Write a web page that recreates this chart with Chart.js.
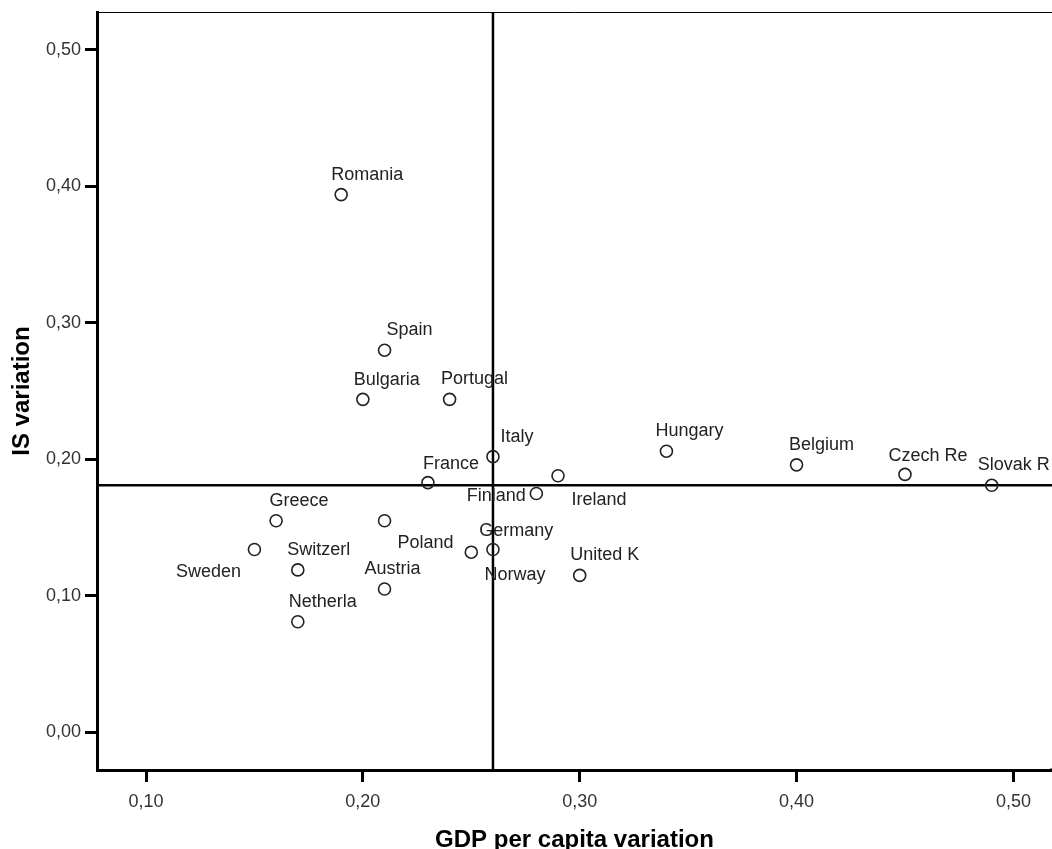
<!DOCTYPE html>
<html>
<head>
<meta charset="utf-8">
<script src="https://cdn.jsdelivr.net/npm/chart.js@4.4.1/dist/chart.umd.min.js"></script>
<style>
html,body{margin:0;padding:0;background:#fff;overflow:hidden;width:1052px;height:849px;}
canvas{display:block;}
</style>
</head>
<body>
<canvas id="c" width="1052" height="849"></canvas>
<script>
// ---- data ----
const countries = ['Romania','Spain','Bulgaria','Portugal','Italy','France','Ireland','Finland','Hungary','Belgium','Czech Re','Slovak R','Greece','Poland','Sweden','Switzerl','Germany','Norway','Austria','Netherla','United K'];
const gdpVariation = [0.19,0.21,0.20,0.24,0.26,0.23,0.29,0.28,0.34,0.40,0.45,0.49,0.16,0.21,0.15,0.17,0.25,0.26,0.21,0.17,0.30];
const isVariation = [0.394,0.280,0.244,0.244,0.202,0.183,0.188,0.175,0.206,0.196,0.189,0.181,0.155,0.155,0.134,0.119,0.132,0.134,0.105,0.081,0.115];
const xTickValues = [0.10,0.20,0.30,0.40,0.50];
const yTickValues = [0.00,0.10,0.20,0.30,0.40,0.50];
const refLineX = 0.26;   // vertical reference line (GDP)
const refLineY = 0.181;  // horizontal reference line (IS)

// ---- label placement (style only: pixel offset of label centre from point) ----
const labelOffsets = [[26,-20],[25,-20],[24,-19],[25,-20],[24,-20],[23,-19],[41,24],[-40,3],[23,-20],[25,-20],[23,-18],[22,-20],[23,-20],[41,22],[-46,23],[21,-20],[45,-21],[22,26],[8,-20],[25,-20],[25,-20]];

const FONT = '"Liberation Sans", Arial, Helvetica, sans-serif';
const fmt = v => v.toFixed(2).replace('.', ',');

const refLines = {
  id: 'refLines',
  beforeDatasetsDraw(chart) {
    const {ctx, chartArea: a, scales: {x, y}} = chart;
    const W = chart.width;
    ctx.save();
    ctx.strokeStyle = '#000';
    // thin top frame line
    ctx.lineWidth = 1;
    ctx.beginPath();
    ctx.moveTo(a.left, a.top + 0.5);
    ctx.lineTo(W, a.top + 0.5);
    ctx.stroke();
    // bottom axis line continues to the picture edge
    ctx.lineWidth = 3;
    ctx.beginPath();
    ctx.moveTo(a.right - 2, a.bottom);
    ctx.lineTo(W, a.bottom);
    ctx.stroke();
    // reference lines
    ctx.lineWidth = 2.5;
    const px = x.getPixelForValue(refLineX);
    const py = y.getPixelForValue(refLineY);
    ctx.beginPath();
    ctx.moveTo(px, a.top);
    ctx.lineTo(px, a.bottom);
    ctx.moveTo(a.left, py);
    ctx.lineTo(W, py);
    ctx.stroke();
    ctx.restore();
  }
};

const pointLabels = {
  id: 'pointLabels',
  afterDatasetsDraw(chart) {
    const {ctx} = chart;
    const meta = chart.getDatasetMeta(0);
    ctx.save();
    ctx.font = '18px ' + FONT;
    ctx.fillStyle = '#222';
    ctx.textAlign = 'center';
    ctx.textBaseline = 'middle';
    meta.data.forEach((pt, i) => {
      const o = labelOffsets[i] || [24, -20];
      ctx.fillText(countries[i], pt.x + o[0], pt.y + o[1]);
    });
    ctx.restore();
  }
};

new Chart(document.getElementById('c'), {
  type: 'scatter',
  data: {
    datasets: [{
      data: gdpVariation.map((g, i) => ({x: g, y: isVariation[i]})),
      pointStyle: 'circle',
      pointRadius: 6,
      pointHoverRadius: 6,
      borderWidth: 1.6,
      borderColor: '#222',
      backgroundColor: 'rgba(0,0,0,0)',
      clip: false
    }]
  },
  options: {
    responsive: false,
    animation: false,
    events: [],
    layout: {autoPadding: false, padding: {top: 12, left: 0, right: 0, bottom: 0}},
    plugins: {legend: {display: false}, tooltip: {enabled: false}, title: {display: false}},
    scales: {
      x: {
        type: 'linear',
        min: 0.0774,
        max: 0.5178,
        afterBuildTicks: s => { s.ticks = xTickValues.map(v => ({value: v})); },
        afterFit: s => { s.height = 79; s.paddingLeft = 0; s.paddingRight = 0; },
        border: {display: true, color: '#000', width: 3},
        grid: {display: true, drawOnChartArea: false, drawTicks: true, tickLength: 12, tickWidth: 3, tickColor: '#000'},
        ticks: {callback: v => fmt(v), font: {family: FONT, size: 18}, color: '#333', padding: 9, maxRotation: 0, autoSkip: false},
        title: {display: true, text: 'GDP per capita variation', font: {family: FONT, size: 24, weight: 'bold', lineHeight: 0.75}, color: '#000', padding: {top: 0, bottom: 0}}
      },
      y: {
        type: 'linear',
        min: -0.0276,
        max: 0.5278,
        afterBuildTicks: s => { s.ticks = yTickValues.map(v => ({value: v})); },
        afterFit: s => { s.width = 97; s.paddingTop = 0; s.paddingBottom = 0; },
        border: {display: true, color: '#000', width: 3},
        grid: {display: true, drawOnChartArea: false, drawTicks: true, tickLength: 12, tickWidth: 3, tickColor: '#000'},
        ticks: {callback: v => fmt(v), font: {family: FONT, size: 18}, color: '#333', padding: 4, autoSkip: false},
        title: {display: true, text: 'IS variation', font: {family: FONT, size: 24, weight: 'bold', lineHeight: 0.75}, color: '#000', padding: {top: 13, bottom: 0}}
      }
    }
  },
  plugins: [refLines, pointLabels]
});
</script>
</body>
</html>
